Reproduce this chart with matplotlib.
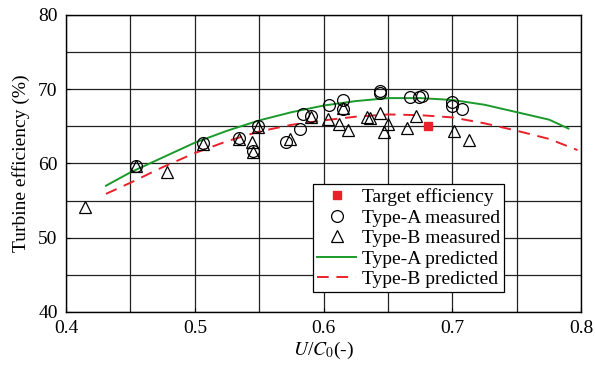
import matplotlib
matplotlib.use("Agg")
import matplotlib.pyplot as plt

plt.rcParams["font.family"] = ["Liberation Serif", "DejaVu Serif"]
plt.rcParams["mathtext.fontset"] = "stix"

# ── Data ────────────────────────────────────────────────────────────────────
a_u = [0.454, 0.506, 0.534, 0.545, 0.549, 0.571, 0.582, 0.584, 0.590, 0.604,
       0.615, 0.615, 0.644, 0.644, 0.667, 0.674, 0.676, 0.700, 0.700, 0.707]
a_eff = [59.7, 62.7, 63.4, 61.7, 65.0, 62.9, 64.6, 66.6, 66.4, 67.9,
         68.6, 67.4, 69.7, 69.5, 69.0, 68.9, 69.1, 68.3, 67.7, 67.4]

b_u = [0.415, 0.454, 0.478, 0.506, 0.534, 0.544, 0.545, 0.549, 0.574, 0.590,
       0.603, 0.612, 0.615, 0.619, 0.634, 0.636, 0.644, 0.647, 0.650, 0.665,
       0.672, 0.701, 0.713]
b_eff = [54.1, 59.6, 58.9, 62.6, 63.3, 62.9, 61.6, 64.9, 63.3, 66.3,
         66.0, 65.3, 67.5, 64.5, 66.3, 66.1, 66.8, 64.3, 65.3, 64.8,
         66.4, 64.4, 63.2]

target_u = [0.681]
target_eff = [65.0]

pa_u = [0.431, 0.45, 0.475, 0.5, 0.525, 0.55, 0.575, 0.6, 0.625, 0.65,
        0.675, 0.7, 0.725, 0.75, 0.775, 0.79]
pa_eff = [57.0, 58.8, 60.8, 62.8, 64.4, 65.8, 66.9, 67.8, 68.4, 68.8,
          68.8, 68.55, 67.9, 66.9, 65.9, 64.7]

pb_u = [0.431, 0.45, 0.475, 0.5, 0.525, 0.55, 0.575, 0.6, 0.625, 0.65,
        0.675, 0.7, 0.725, 0.75, 0.775, 0.797]
pb_eff = [55.9, 57.4, 59.5, 61.4, 63.0, 64.3, 65.2, 65.8, 66.3, 66.6,
          66.5, 66.2, 65.4, 64.4, 63.3, 61.8]

# ── Figure ──────────────────────────────────────────────────────────────────
fig = plt.figure(figsize=(5.95, 3.74), dpi=100)
ax = fig.add_axes([0.111, 0.166, 0.866, 0.794])

ax.plot(target_u, target_eff, "s", color="#e8212a", ms=6, ls="none",
        label="Target efficiency", zorder=5)
ax.plot(a_u, a_eff, "o", mfc="none", mec="k", mew=0.9, ms=8.5, ls="none",
        label="Type-A measured", zorder=4)
ax.plot(b_u, b_eff, "^", mfc="none", mec="k", mew=0.9, ms=9, ls="none",
        label="Type-B measured", zorder=4)
ax.plot(pa_u, pa_eff, "-", color="#1a9a2a", lw=1.4, label="Type-A predicted", zorder=3)
ax.plot(pb_u, pb_eff, "--", color="#e8212a", lw=1.4, dashes=(6, 4),
        label="Type-B predicted", zorder=3)

ax.set_xlim(0.4, 0.8)
ax.set_ylim(40, 80)
ax.set_xticks([0.4, 0.5, 0.6, 0.7, 0.8])
ax.set_xticks([0.45, 0.55, 0.65, 0.75], minor=True)
ax.set_yticks([40, 50, 60, 70, 80])
ax.set_yticks([45, 55, 65, 75], minor=True)
ax.grid(True, which="both", color="#222222", lw=0.9)
ax.set_axisbelow(True)
ax.tick_params(which="both", direction="in", length=3, labelsize=14, pad=6)
ax.tick_params(which="minor", length=0)
for s in ax.spines.values():
    s.set_linewidth(1.0)

ax.set_xlabel(r"$U$/$C_0$(-)", fontsize=14, labelpad=2)
ax.set_ylabel("Turbine efficiency (%)", fontsize=14, labelpad=6)

leg = ax.legend(loc="upper left", bbox_to_anchor=(0.48, 0.43), fontsize=14,
                frameon=True, fancybox=False, edgecolor="k", framealpha=1,
                handlelength=2.0, handletextpad=0.3, borderpad=0.2,
                labelspacing=0.15, borderaxespad=0)
leg.get_frame().set_linewidth(0.9)

fig.savefig("out.png", dpi=100)
